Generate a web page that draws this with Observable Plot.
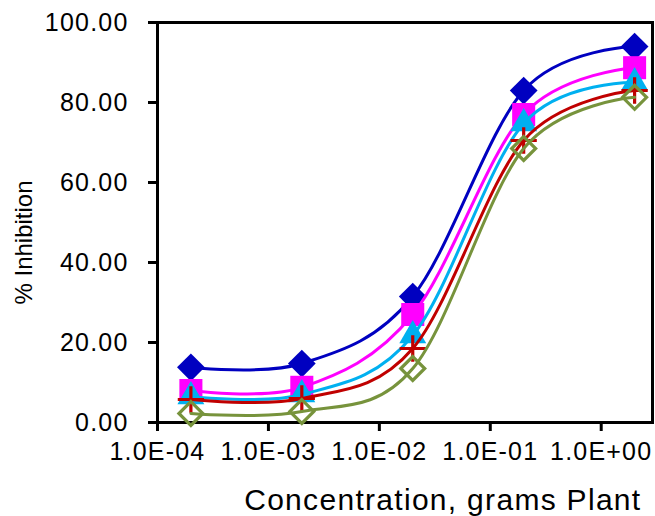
<!DOCTYPE html>
<html><head><meta charset="utf-8">
<script src="https://cdn.jsdelivr.net/npm/d3@7"></script>
<script src="https://cdn.jsdelivr.net/npm/@observablehq/plot@0.6"></script>
<style>
body{margin:0;background:#fff;color:#000;}
svg{font-family:"Liberation Sans",Arial,sans-serif;}
g[aria-label$="tick label"]{letter-spacing:1.2px;}
</style>
</head><body><div id="chart"></div>
<script>
// Data
const concentration = [2e-4, 2e-3, 2e-2, 2e-1, 2];
const seriesNames = ["Series 1", "Series 2", "Series 3", "Series 4", "Series 5"];
const series1 = [13.8, 14.75, 31.5, 83, 94];
const series2 = [8, 8.8, 27, 77, 88.7];
const series3 = [6.5, 7, 21.75, 74.75, 85];
const series4 = [5.75, 6, 18.5, 70.5, 83];
const series5 = [2.25, 2.75, 13.5, 68.5, 81.3];
const xTicks = [1e-4, 1e-3, 1e-2, 1e-1, 1];
const xTickLabels = ["1.0E-04", "1.0E-03", "1.0E-02", "1.0E-01", "1.0E+00"];
const yTicks = [0, 20, 40, 60, 80, 100];
const yTickLabels = ["0.00", "20.00", "40.00", "60.00", "80.00", "100.00"];
const xLabel = "Concentration, grams Plant";
const yLabel = "% Inhibition";

const allSeries = [series1, series2, series3, series4, series5];
const styles = [
  {color: "#0000C0", symbol: "diamond2", r: 12.5, filled: true},
  {color: "#FF00FF", symbol: "square", r: 13, filled: true},
  {color: "#00B0F0", symbol: "triangle", r: 10, filled: true},
  {color: "#C00000", symbol: "plus", r: 8.5, filled: false},
  {color: "#77933C", symbol: "diamond2", r: 10.8, filled: false}
];

const marks = [];
allSeries.forEach((vals, i) => {
  const rows = concentration.map((c, j) => ({x: c, y: vals[j], name: seriesNames[i]}));
  const st = styles[i];
  marks.push(Plot.line(rows, {x: "x", y: "y", stroke: st.color, strokeWidth: 3, curve: "cardinal", tension: 0}));
  marks.push(Plot.dot(rows, st.filled
    ? {x: "x", y: "y", symbol: () => st.symbol, r: st.r, fill: st.color, stroke: "none"}
    : {x: "x", y: "y", symbol: () => st.symbol, r: st.r, fill: "none", stroke: st.color, strokeWidth: 3.2}));
});

const chart = Plot.plot({
  width: 655,
  height: 516,
  marginLeft: 157,
  marginRight: 3,
  marginTop: 22,
  marginBottom: 94,
  style: {background: "#fff", color: "#000", fontFamily: "'Liberation Sans', Arial, sans-serif"},
  x: {type: "log", domain: [1e-4, 2.9]},
  y: {domain: [0, 100]},
  symbol: {type: "identity"},
  marks: [
    Plot.axisX({ticks: xTicks, tickFormat: d => xTickLabels[xTicks.indexOf(d)], tickSize: 9, tickPadding: 11, fontSize: 25, strokeWidth: 3, label: null}),
    Plot.axisY({ticks: yTicks, tickFormat: d => yTickLabels[yTicks.indexOf(d)], tickSize: 9, tickPadding: 20, fontSize: 25, strokeWidth: 3, label: null}),
    Plot.frame({stroke: "#000", strokeWidth: 3}),
    ...marks,
    Plot.text([xLabel], {text: d => d, frameAnchor: "bottom-right", textAnchor: "end", lineAnchor: "middle", dx: -11, dy: 78, fontSize: 30, fill: "#000"}),
    Plot.text([yLabel], {text: d => d, frameAnchor: "left", textAnchor: "middle", lineAnchor: "middle", rotate: -90, dx: -133, dy: 20, fontSize: 24, fill: "#000"})
  ]
});
d3.select(chart).selectAll("text").filter(function() { return this.textContent === xLabel; }).style("letter-spacing", "1.3px");
document.getElementById("chart").appendChild(chart);
</script>
</body></html>
